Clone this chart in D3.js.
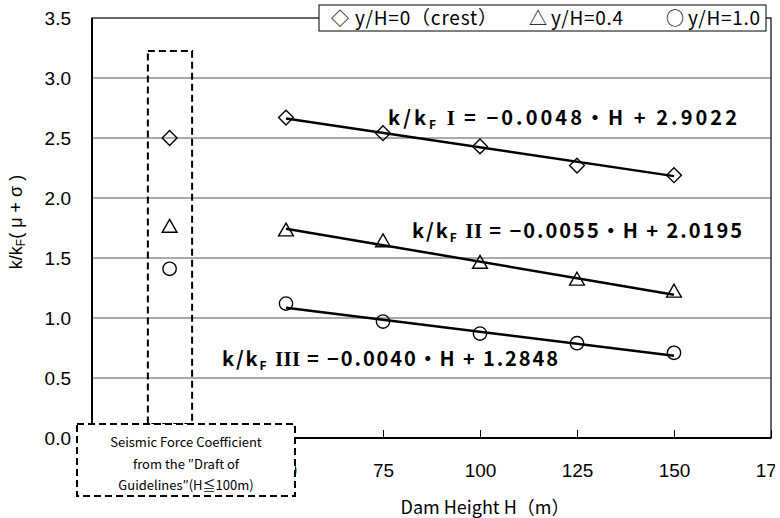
<!DOCTYPE html>
<html><head><meta charset="utf-8">
<script src="https://cdn.jsdelivr.net/npm/d3@7"></script>
<style>body{margin:0;background:#fff}</style>
</head><body><svg id="c" width="780" height="518"></svg>
<script>
// ---- data ----
const heights = [50, 75, 100, 125, 150];
const crestValues = [2.67, 2.54, 2.43, 2.27, 2.19];   // y/H = 0 (crest)
const midValues = [1.72, 1.63, 1.45, 1.31, 1.21];     // y/H = 0.4
const baseValues = [1.12, 0.97, 0.87, 0.79, 0.71];    // y/H = 1.0
const draftH = 20;
const draftValues = [2.50, 1.75, 1.41];
const slopes = [-0.0048, -0.0055, -0.0040];
const intercepts = [2.9022, 2.0195, 1.2848];
const numerals = ["I", "II", "III"];
const xTicks = [0, 25, 50, 75, 100, 125, 150, 175];
const yTicks = [0, 0.5, 1.0, 1.5, 2.0, 2.5, 3.0, 3.5];
const legendSymbols = ["◇", "△", "○"];
const legendLabels = ["y/H=0（crest）", "y/H=0.4", "y/H=1.0"];
const boxLines = ["Seismic Force Coefficient", "from the \u2033Draft of", "Guidelines\u2033(H≦100m)"];

// ---- layout ----
const svg = d3.select("#c");
const L = 92, R = 771, T = 18, B = 438;
const x = d3.scaleLinear().domain([0, 175]).range([L, R]);
const y = d3.scaleLinear().domain([0, 3.5]).range([B, T]);
const gothic = "'Noto Sans CJK JP', sans-serif";
const arial = "'Liberation Sans', Arial, sans-serif";
const serif = "'Liberation Serif', serif";

// gridlines
svg.append("g").selectAll("line").data(yTicks.filter(d => d > 0 && d < 3.5)).join("line")
  .attr("x1", L).attr("x2", R).attr("y1", d => y(d)).attr("y2", d => y(d))
  .attr("stroke", "#555").attr("stroke-width", 1);

// plot frame
svg.append("rect").attr("x", L).attr("y", T).attr("width", R - L).attr("height", B - T)
  .attr("fill", "none").attr("stroke", "#000").attr("stroke-width", 1.2);
svg.append("line").attr("x1", L).attr("x2", L).attr("y1", T).attr("y2", B).attr("stroke", "#000").attr("stroke-width", 2);
svg.append("line").attr("x1", L).attr("x2", R).attr("y1", B).attr("y2", B).attr("stroke", "#000").attr("stroke-width", 2);

// y axis labels
svg.append("g").selectAll("text").data(yTicks).join("text")
  .attr("x", 71).attr("y", d => y(d)).attr("dy", "0.36em").attr("text-anchor", "end")
  .attr("font-family", arial).attr("font-size", 19).text(d => d.toFixed(1));

// x axis ticks (inside) and labels
const xAxis = d3.axisBottom(x).tickValues(xTicks).tickSize(0).tickPadding(0).tickFormat(d => d);
const gx = svg.append("g").attr("transform", `translate(0,${B})`).call(xAxis);
gx.select(".domain").remove();
gx.selectAll(".tick text").attr("font-family", arial).attr("font-size", 19).attr("fill", "#000").attr("dy", "2.05em");
gx.selectAll(".tick").append("line").attr("y1", 0).attr("y2", -8).attr("stroke", "#000").attr("stroke-width", 1);

// regression lines
slopes.forEach((s, i) => {
  const h0 = heights[0], h1 = heights[heights.length - 1];
  svg.append("line")
    .attr("x1", x(h0)).attr("y1", y(s * h0 + intercepts[i]))
    .attr("x2", x(h1)).attr("y2", y(s * h1 + intercepts[i]))
    .attr("stroke", "#000").attr("stroke-width", 2.5);
});

// markers
const diamond = d3.symbol().type(d3.symbolSquare).size(110);
const tri = d3.symbol().type(d3.symbolTriangle).size(95);
const circ = d3.symbol().type(d3.symbolCircle).size(140);
function drawSeries(vals, hs, sym, rot) {
  svg.append("g").selectAll("path").data(vals).join("path")
    .attr("d", sym)
    .attr("transform", (d, i) => `translate(${x(hs[i])},${y(d)}) rotate(${rot})`)
    .attr("fill", "none").attr("stroke", "#000").attr("stroke-width", 1.4);
}
drawSeries(crestValues, heights, diamond, 45);
drawSeries(midValues, heights, tri, 0);
drawSeries(baseValues, heights, circ, 0);
drawSeries([draftValues[0]], [draftH], diamond, 45);
drawSeries([draftValues[1]], [draftH], tri, 0);
drawSeries([draftValues[2]], [draftH], circ, 0);

// equations
const eqPos = [[388, 125, 349], [412, 238, 330], [222, 366, 336]];
slopes.forEach((s, i) => {
  const t = svg.append("text").attr("x", eqPos[i][0]).attr("y", eqPos[i][1])
    .attr("textLength", eqPos[i][2]).attr("lengthAdjust", "spacing")
    .attr("font-family", gothic).attr("font-weight", "bold").attr("font-size", 20);
  t.append("tspan").text("k/k");
  t.append("tspan").attr("font-size", 12).attr("dy", 4).text("F");
  t.append("tspan").attr("dy", -4).text(" ");
  t.append("tspan").attr("font-family", serif).attr("letter-spacing", -1.5).attr("font-size", 21).text(numerals[i]);
  t.append("tspan").text((i === 0 ? "  " : " ") + "= \u2212" + Math.abs(s).toFixed(4) + "\u30FBH + " + intercepts[i].toFixed(4));
});

// tall dashed box around draft points
svg.append("rect").attr("x", x(14.4)).attr("y", y(3.225)).attr("width", x(25.8) - x(14.4)).attr("height", 424 - y(3.225))
  .attr("fill", "none").attr("stroke", "#000").attr("stroke-width", 2).attr("stroke-dasharray", "7,4");

// bottom dashed note box
svg.append("rect").attr("x", 77).attr("y", 424).attr("width", 218).attr("height", 72)
  .attr("fill", "#fff").attr("stroke", "#000").attr("stroke-width", 2).attr("stroke-dasharray", "7,4");
svg.append("g").selectAll("text").data(boxLines).join("text")
  .attr("x", 186).attr("y", (d, i) => 447 + i * 21.5).attr("text-anchor", "middle")
  .attr("font-family", gothic).attr("font-size", 13).text(d => d);

// clip right edge
svg.append("rect").attr("x", 775).attr("y", 440).attr("width", 10).attr("height", 80).attr("fill", "#fff");

// legend
svg.append("rect").attr("x", 319).attr("y", 5).attr("width", 447).attr("height", 26)
  .attr("fill", "#fff").attr("stroke", "#000").attr("stroke-width", 1);
const legSymX = [331, 529, 666];
const legLabX = [355, 551, 688];
const legLabW = [142, 72, 72];
legendLabels.forEach((lab, i) => {
  svg.append("text").attr("x", legSymX[i]).attr("y", 25)
    .attr("font-family", gothic).attr("font-size", 18).text(legendSymbols[i]);
  svg.append("text").attr("x", legLabX[i]).attr("y", 25)
    .attr("textLength", legLabW[i]).attr("lengthAdjust", "spacing")
    .attr("font-family", gothic).attr("font-size", 19).text(lab);
});

// axis titles
svg.append("text").attr("x", 485).attr("y", 514).attr("text-anchor", "middle")
  .attr("font-family", gothic).attr("font-size", 18).text("Dam Height H（m）");
const yl = svg.append("text").attr("transform", "translate(22,222) rotate(-90)").attr("text-anchor", "middle")
  .attr("font-family", arial).attr("font-size", 18);
yl.append("tspan").text("k/k");
yl.append("tspan").attr("font-size", 12).attr("dy", 3).text("F");
yl.append("tspan").attr("dy", -3).text("( μ + σ )");
</script></body></html>
